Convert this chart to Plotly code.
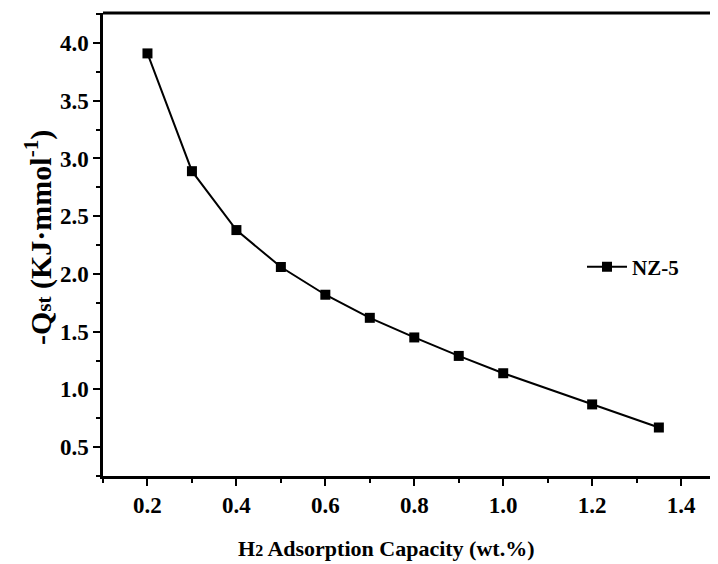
import plotly.graph_objects as go

capacity = [0.2, 0.3, 0.4, 0.5, 0.6, 0.7, 0.8, 0.9, 1.0, 1.2, 1.35]
qst = [3.91, 2.89, 2.38, 2.06, 1.82, 1.62, 1.45, 1.29, 1.14, 0.87, 0.67]
series_name = "NZ-5"
x_ticks = [0.2, 0.4, 0.6, 0.8, 1.0, 1.2, 1.4]
y_ticks = [0.5, 1.0, 1.5, 2.0, 2.5, 3.0, 3.5, 4.0]

FONT = "Liberation Serif, Times New Roman, serif"

# page has an 8px body margin; plot area (page px): left 103, right 718, top 13, bottom 476
PL, PR, PT, PB = 103, 718, 13, 476
W, H = 710, 556
pw, ph = PR - PL, PB - PT


def px(x):
    return (x - PL) / pw


def py(y):
    return 1 - (y - PT) / ph


fig = go.Figure()
fig.add_trace(go.Scatter(
    x=capacity, y=qst, mode="lines+markers", name=f"<b>{series_name}</b>",
    line=dict(color="black", width=2),
    marker=dict(symbol="square", size=10, color="black"),
))

fig.update_layout(
    width=W, height=H,
    margin=dict(l=PL - 8, r=W - (PR - 8), t=PT - 8, b=H - (PB - 8)),
    paper_bgcolor="white", plot_bgcolor="white",
    font=dict(family=FONT, color="black", size=20),
    showlegend=True,
    legend=dict(x=px(582), y=py(267), xanchor="left", yanchor="middle",
                bgcolor="rgba(0,0,0,0)", font=dict(size=21, family=FONT),
                itemwidth=40),
    xaxis=dict(
        range=[0.1, 1.483], tickvals=x_ticks, ticktext=[f"<b>{v:.1f}</b>" for v in x_ticks],
        showgrid=False, zeroline=False, showline=True, linecolor="black", linewidth=2.5,
        ticks="outside", ticklen=7, tickwidth=2, tickcolor="black",
        minor=dict(dtick=0.1, tick0=0.1, ticks="outside", ticklen=4, tickwidth=2, tickcolor="black"),
        tickfont=dict(size=23, family=FONT),
    ),
    yaxis=dict(
        range=[0.25, 4.26], tickvals=y_ticks, ticktext=[f"<b>{v:.1f}</b>" for v in y_ticks],
        showgrid=False, zeroline=False, showline=True, linecolor="black", linewidth=2.5,
        ticks="outside", ticklen=7, tickwidth=2, tickcolor="black",
        minor=dict(dtick=0.25, tick0=0.25, ticks="outside", ticklen=4, tickwidth=2, tickcolor="black"),
        tickfont=dict(size=23, family=FONT),
    ),
    shapes=[dict(type="line", xref="paper", yref="paper", x0=0, x1=1, y0=1, y1=1,
                 line=dict(color="black", width=3))],
    annotations=[
        dict(text="<b>H<span style='font-size:16px'>2</span> Adsorption Capacity (wt.%)</b>",
             xref="paper", yref="paper", x=px(386), y=py(548),
             xanchor="center", yanchor="middle", showarrow=False, font=dict(size=22, family=FONT)),
        dict(text="<b>-Q<span style='font-size:21px'>st</span> (KJ·mmol<sup>-1</sup>)</b>",
             xref="paper", yref="paper", x=px(38), y=py(238),
             xanchor="center", yanchor="middle", textangle=-90, showarrow=False,
             font=dict(size=30, family=FONT)),
    ],
)

fig.write_html("out.html")
